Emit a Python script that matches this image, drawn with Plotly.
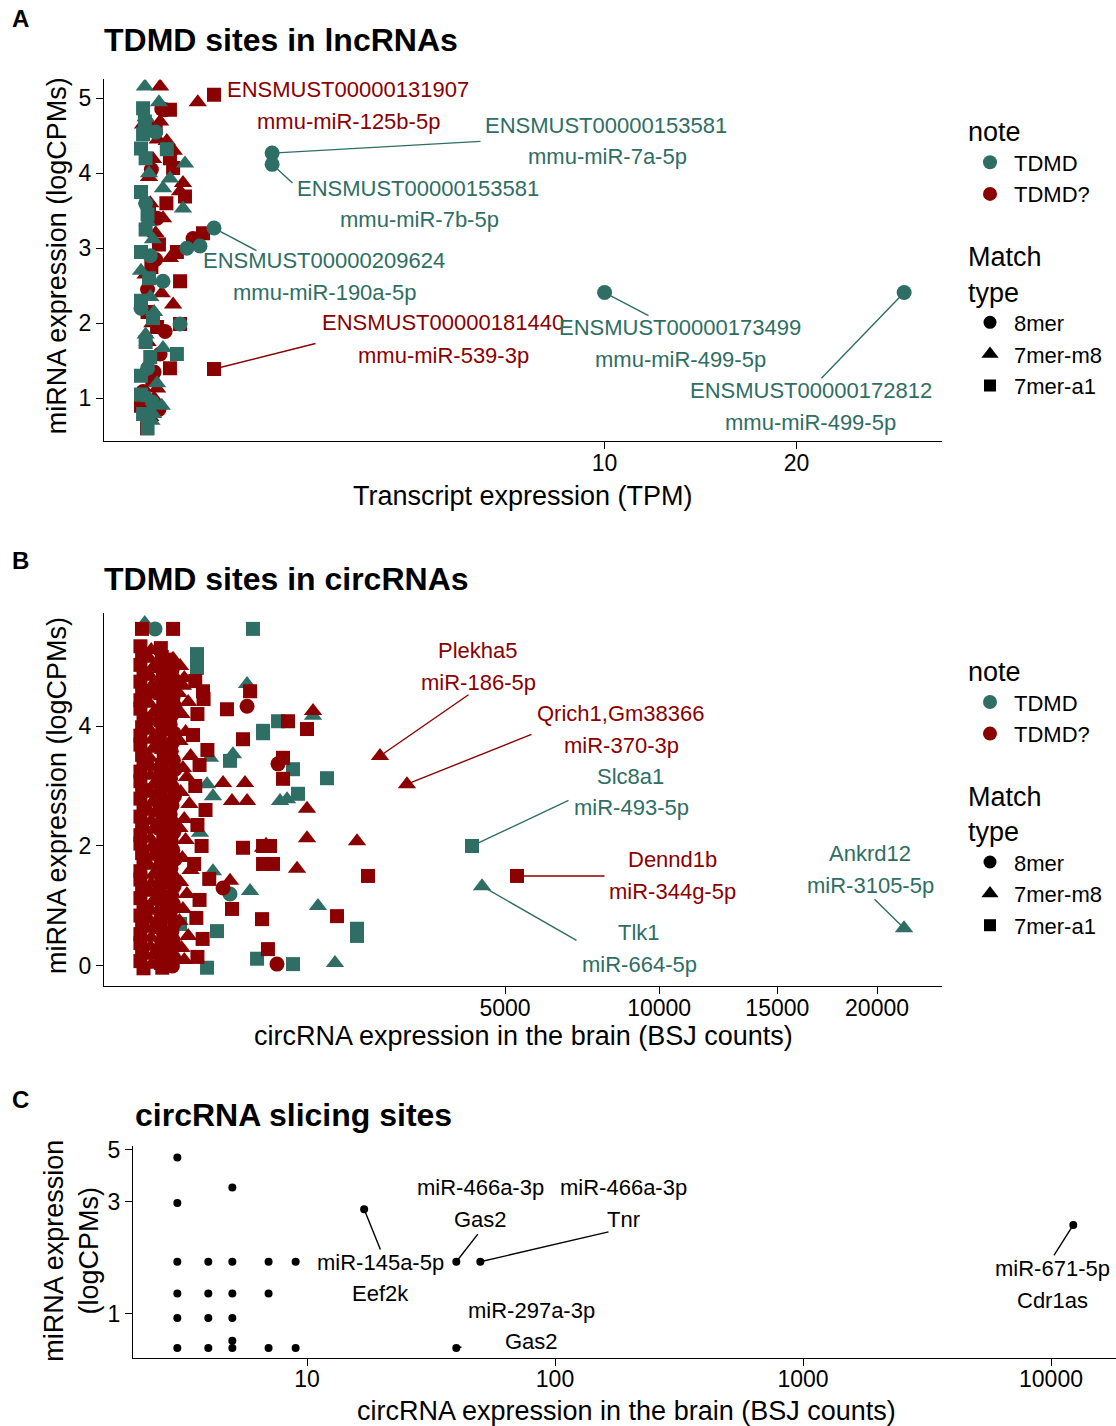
import numpy as np
import plotly.graph_objects as go

W, H = 1116, 1426
TEAL = "#2E6E64"
RED = "#8B0000"
FONT = "Liberation Sans, Arial, Helvetica, sans-serif"

# ---------------- Panel A : TDMD sites in lncRNAs ----------------
# (TPM, logCPM) per note / match type
a_teal_8mer_tpm = [0.098, 0.162, 0.0225, 0.071, 0.001, 0.004, 0.002, 0.010, 0.0, 0.006]
a_teal_8mer_cpm = [3.00, 3.03, 2.56, 1.99, 3.60, 2.90, 1.40, 4.55, 2.20, 0.95]
a_teal_m8_tpm = [0.0007, 0.090, 0.039, 0.0225, 0.082, 0.0067, 0.0225, 0.0067, 0.001, 0.003,
                 0.002, 0.0, 0.004, 0.001, 0.012, 0.003, 0.005, 0.015, 0.008, 0.020]
a_teal_m8_cpm = [5.16, 4.13, 3.93, 3.80, 3.53, 3.12, 1.67, 0.79, 4.75, 4.00,
                 3.35, 2.70, 2.35, 1.85, 1.20, 1.00, 0.70, 4.95, 2.15, 0.90]
a_teal_a1_tpm = [0.0002, 0.0007, 0.0002, 0.0, 0.031, 0.0067, 0.060, 0.0002, 0.001, 0.0,
                 0.002, 0.001, 0.0, 0.003, 0.0, 0.001, 0.004, 0.0, 0.002, 0.0]
a_teal_a1_cpm = [4.87, 4.69, 4.52, 4.33, 4.32, 2.07, 1.59, 0.79, 4.20, 3.75,
                 3.45, 3.25, 2.95, 2.60, 2.30, 1.75, 1.55, 1.30, 0.60, 1.05]
a_red_8mer_tpm = [0.027, 0.012, 0.027, 0.017, 0.0002, 0.126, 0.005, 0.002, 0.008, 0.010, 0.015, 0.020]
a_red_8mer_cpm = [4.85, 3.40, 1.89, 1.59, 1.09, 3.13, 4.05, 2.45, 1.35, 2.85, 0.85, 4.86]
a_red_m8_tpm = [0.017, 0.15, 0.0002, 0.017, 0.031, 0.0067, 0.082, 0.071, 0.0225, 0.039, 0.048, 0.012,
                0.003, 0.004, 0.010, 0.001, 0.006, 0.002, 0.008, 0.004, 0.020, 0.050, 0.013]
a_red_m8_cpm = [5.16, 4.95, 4.65, 4.69, 4.43, 4.19, 3.87, 3.76, 3.40, 2.87, 2.25, 1.13,
                3.95, 3.60, 3.20, 2.65, 2.00, 1.75, 1.00, 0.75, 2.40, 4.30, 4.45]
a_red_a1_tpm = [0.039, 0.039, 0.048, 0.090, 0.179, 0.071, 0.071, 0.039, 0.0017, 0.010,
                0.003, 0.015, 0.005, 0.002, 0.012, 0.006, 0.0, 0.030, 0.060, 0.126]
a_red_a1_cpm = [4.85, 4.20, 4.07, 3.69, 3.20, 2.56, 1.99, 1.40, 0.60, 4.60,
                3.50, 3.05, 2.75, 2.15, 1.95, 1.25, 0.90, 3.60, 2.95, 3.07]

a_lab_tx = ["ENSMUST00000131907", "ENSMUST00000153581", "ENSMUST00000153581", "ENSMUST00000209624",
            "ENSMUST00000181440", "ENSMUST00000173499", "ENSMUST00000172812"]
a_lab_mir = ["mmu-miR-125b-5p", "mmu-miR-7a-5p", "mmu-miR-7b-5p", "mmu-miR-190a-5p",
             "mmu-miR-539-3p", "mmu-miR-499-5p", "mmu-miR-499-5p"]
a_lab_tpm = [0.248, 0.80, 0.80, 0.248, 0.248, 10.0, 27.1]
a_lab_cpm = [5.05, 4.27, 4.12, 3.27, 1.39, 2.41, 2.41]
a_lab_note = ["TDMD?", "TDMD", "TDMD", "TDMD", "TDMD?", "TDMD", "TDMD"]
a_lab_type = ["7mer-a1", "8mer", "8mer", "8mer", "7mer-a1", "8mer", "8mer"]
a_xticks = [10, 20]

# ---------------- Panel B : TDMD sites in circRNAs ----------------
b_teal_8mer_bsj = [17.5, 42, 340]
b_teal_8mer_cpm = [5.62, 4.45, 1.20]
b_teal_m8_bsj = [5, 470, 361, 781, 495, 1171, 857, 1236, 1474, 214, 198, 231, 231, 162]
b_teal_m8_cpm = [5.72, 4.70, 3.53, 2.75, 1.25, 4.17, 2.78, 1.00, 0.05, 3.47, 3.03, 2.83, 1.58, 2.22]
b_teal_a1_bsj = [520, 148, 148, 611, 340, 556, 760, 925, 1360, 984, 1813, 1813, 925, 50, 80, 198, 255, 611]
b_teal_a1_cpm = [5.62, 5.20, 4.97, 3.92, 3.42, 0.12, 4.08, 3.28, 3.13, 2.87, 0.62, 0.50, 0.03, 2.22, 0.70, -0.03, 0.58, 3.88]

b_red_8mer_bsj = [50, 55, 60, 52, 58, 63, 54, 50, 61, 57, 53, 59, 64, 51, 56, 62, 55, 50, 58, 60,
                  53, 57, 64, 52, 56, 61, 54, 59, 50, 63, 55, 58, 52, 60, 56,
                  470, 293, 749, 760]
b_red_8mer_cpm = [5.10, 4.93, 4.78, 4.62, 4.47, 4.33, 4.18, 4.03, 3.88, 3.73, 3.58, 3.43, 3.28, 3.13,
                  2.98, 2.83, 2.68, 2.53, 2.38, 2.23, 2.08, 1.93, 1.78, 1.63, 1.48, 1.33, 1.18, 1.03,
                  0.88, 0.73, 0.58, 0.43, 0.28, 0.13, 0.00,
                  4.33, 1.30, 0.03, 3.37]
b_red_m8_bsj = [12, 10, 14, 11, 13, 12, 10, 15, 12, 11, 13, 14, 10, 12, 11, 15, 12, 13, 10, 12,
                14, 11, 12, 13, 10, 15, 12, 11, 14, 12, 10, 13, 12, 11, 14, 12,
                80, 95, 75, 110, 85, 100, 78, 120, 90, 105, 82, 115, 95, 78, 100, 88, 120, 80, 105, 90,
                78, 110, 85, 95,
                58, 90, 293, 453, 354, 470, 611, 340, 1171, 1094, 1094, 1813, 972, 640]
b_red_m8_cpm = [5.27, 5.12, 4.97, 4.82, 4.67, 4.52, 4.37, 4.22, 4.07, 3.92, 3.77, 3.62, 3.47, 3.32,
                3.17, 3.02, 2.87, 2.72, 2.57, 2.42, 2.27, 2.12, 1.97, 1.82, 1.67, 1.52, 1.37, 1.22,
                1.07, 0.92, 0.77, 0.62, 0.47, 0.32, 0.17, 0.02,
                5.00, 4.80, 4.55, 4.40, 4.20, 3.90, 3.75, 3.50, 3.30, 3.15, 2.90, 2.70, 2.45, 2.30,
                2.10, 1.80, 1.60, 1.40, 1.20, 0.95, 0.75, 0.50, 0.30, 0.10,
                5.12, 4.67, 3.05, 3.05, 2.75, 2.75, 1.97, 1.42, 4.25, 2.62, 2.13, 2.08, 1.62, 2.02]
b_red_a1_bsj = [2, 3, 2, 4, 2, 3, 2, 2, 4, 3, 2, 2, 3, 4, 2, 2, 3, 2, 4, 2, 3, 2, 2, 3, 4, 2, 2,
                3, 2, 4, 2, 3, 2, 2, 3, 2, 4,
                28, 30, 26, 32, 29, 27, 33, 30, 28, 31, 26, 29, 34, 30, 27, 32, 28, 30, 26, 31, 29,
                33, 27, 30, 28, 32, 29, 26, 31, 30, 28, 27, 33, 29, 30, 28, 31,
                140, 180, 150, 130, 200, 160, 140, 190, 150, 170, 135, 210, 160, 145, 175, 150,
                2.9, 58, 495, 177, 319, 437, 437, 611, 354, 601, 658, 868, 1094, 813, 813, 611, 678,
                708, 1995, 1504]
b_red_a1_cpm = [5.33, 5.18, 5.02, 4.88, 4.74, 4.57, 4.43, 4.29, 4.12, 3.98, 3.84, 3.69, 3.52, 3.38,
                3.24, 3.08, 2.93, 2.79, 2.63, 2.49, 2.33, 2.18, 2.04, 1.88, 1.74, 1.58, 1.44, 1.29,
                1.13, 0.98, 0.84, 0.69, 0.53, 0.38, 0.24, 0.08, -0.04,
                5.30, 5.15, 5.00, 4.85, 4.70, 4.55, 4.40, 4.25, 4.10, 3.95, 3.80, 3.65, 3.50, 3.35,
                3.20, 3.05, 2.90, 2.75, 2.60, 2.45, 2.30, 2.15, 2.00, 1.85, 1.70, 1.55, 1.40, 1.25,
                1.10, 0.95, 0.80, 0.65, 0.50, 0.35, 0.20, 0.05, -0.03,
                4.75, 4.45, 4.20, 3.85, 3.60, 3.35, 3.00, 2.60, 2.35, 2.00, 1.70, 1.45, 1.10, 0.80,
                0.45, 0.15,
                5.62, 5.62, 4.58, 4.58, 4.28, 3.78, 1.97, 1.70, 0.95, 0.78, 0.28, 4.08, 3.95, 3.47,
                3.12, 2.00, 2.00, 1.70, 1.50, 0.83]

b_lab_gene = ["Plekha5", "Qrich1,Gm38366", "Slc8a1", "Dennd1b", "Tlk1", "Ankrd12"]
b_lab_mir = ["miR-186-5p", "miR-370-3p", "miR-493-5p", "miR-344g-5p", "miR-664-5p", "miR-3105-5p"]
b_lab_bsj = [2204, 2712, 4152, 5328, 4401, 21477]
b_lab_cpm = [3.50, 3.03, 2.00, 1.50, 1.33, 0.63]
b_lab_note = ["TDMD?", "TDMD?", "TDMD", "TDMD?", "TDMD", "TDMD"]
b_lab_type = ["7mer-m8", "7mer-m8", "7mer-a1", "7mer-a1", "7mer-m8", "7mer-m8"]
b_xticks = [5000, 10000, 15000, 20000]

# ---------------- Panel C : circRNA slicing sites ----------------
c_bsj = [3, 3, 3, 3, 3, 3, 4, 4, 4, 4, 5, 5, 5, 5, 5, 5, 7, 7, 7, 9, 9]
c_cpm = [4.63, 2.96, 1.665, 1.22, 0.96, 0.714, 1.665, 1.22, 0.96, 0.714,
         3.45, 1.665, 1.22, 0.96, 0.767, 0.714, 1.665, 1.22, 0.714, 1.665, 0.714]
c_lab_mir = ["miR-145a-5p", "miR-466a-3p", "miR-466a-3p", "miR-297a-3p", "miR-671-5p"]
c_lab_gene = ["Eef2k", "Gas2", "Tnr", "Gas2", "Cdr1as"]
c_lab_bsj = [17, 40, 50, 40, 12300]
c_lab_cpm = [2.79, 1.665, 1.665, 0.714, 2.39]
c_xticks = [10, 100, 1000, 10000]
c_yticks = [1, 3, 5]

# ---------------- styling / layout helpers ----------------
NOTE_COLOR = {"TDMD": TEAL, "TDMD?": RED}
SHAPE = {"8mer": ("circle", 15), "7mer-m8": ("triangle-up", 16), "7mer-a1": ("square", 14)}

# label placement (target pixels): line1 centre, line2 centre, leader-line end (None = no leader)
A_LAB_POS = [((348, 88), (348, 120), None),
             ((606, 124), (607, 155), (482, 140)),
             ((418, 187), (419, 218), (294, 183)),
             ((324, 259), (324, 291), (258, 250)),
             ((443, 321), (443, 354), (317, 342)),
             ((680, 326), (680, 358), (650, 315)),
             ((811, 389), (811, 421), (820, 378))]
B_LAB_POS = [((478, 649), (478, 681), (470, 693)),
             ((621, 712), (621, 744), (533, 733)),
             ((630, 775), (631, 807), (570, 799)),
             ((673, 859), (673, 891), (606, 875)),
             ((639, 932), (639, 964), (578, 940)),
             ((870, 853), (870, 885), (873, 897))]
C_LAB_POS = [((381, 1262), (381, 1293), (381, 1250)),
             ((480, 1187), (480, 1219), (479, 1232)),
             ((623, 1187), (623, 1219), (610, 1231)),
             ((531, 1310), (531, 1341), (463, 1346)),
             ((1052, 1268), (1052, 1300), (1053, 1256))]

# vertical correction of the page rendering (measured): shown_y = 7.56 + 0.99424 * fig_y
VS, VO = 0.99424, 7.56


def fy(py):
    return (py - VO) / VS


def pxx(x):
    return x / W


def pxy(y):
    return 1 - fy(y) / H


fig = go.Figure()


def add_points(xs, ys, color, mtype, xa, ya, size=None):
    sym, sz = SHAPE[mtype]
    fig.add_trace(go.Scatter(
        x=xs, y=ys, mode="markers", xaxis=xa, yaxis=ya, showlegend=False, hoverinfo="skip",
        marker=dict(color=color, symbol=sym, size=size or sz, line=dict(width=0))))


def with_labels(xs, ys, note, mtype, lx, ly, lnote, ltype):
    xs = list(xs) + [x for x, n, t in zip(lx, lnote, ltype) if n == note and t == mtype]
    ys = list(ys) + [y for y, n, t in zip(ly, lnote, ltype) if n == note and t == mtype]
    return xs, ys


# Panel A (sqrt-scaled x)
A_GROUPS = [("TDMD?", "8mer", a_red_8mer_tpm, a_red_8mer_cpm),
            ("TDMD?", "7mer-m8", a_red_m8_tpm, a_red_m8_cpm),
            ("TDMD?", "7mer-a1", a_red_a1_tpm, a_red_a1_cpm),
            ("TDMD", "8mer", a_teal_8mer_tpm, a_teal_8mer_cpm),
            ("TDMD", "7mer-m8", a_teal_m8_tpm, a_teal_m8_cpm),
            ("TDMD", "7mer-a1", a_teal_a1_tpm, a_teal_a1_cpm)]
for note, mt, xs, ys in A_GROUPS:
    xs, ys = with_labels(xs, ys, note, mt, a_lab_tpm, a_lab_cpm, a_lab_note, a_lab_type)
    add_points(np.sqrt(xs), ys, NOTE_COLOR[note], mt, "x", "y")

# Panel B (sqrt-scaled x)
B_GROUPS = [("TDMD", "8mer", b_teal_8mer_bsj, b_teal_8mer_cpm),
            ("TDMD", "7mer-m8", b_teal_m8_bsj, b_teal_m8_cpm),
            ("TDMD", "7mer-a1", b_teal_a1_bsj, b_teal_a1_cpm),
            ("TDMD?", "8mer", b_red_8mer_bsj, b_red_8mer_cpm),
            ("TDMD?", "7mer-m8", b_red_m8_bsj, b_red_m8_cpm),
            ("TDMD?", "7mer-a1", b_red_a1_bsj, b_red_a1_cpm)]
for note, mt, xs, ys in B_GROUPS:
    xs, ys = with_labels(xs, ys, note, mt, b_lab_bsj, b_lab_cpm, b_lab_note, b_lab_type)
    add_points(np.sqrt(xs), ys, NOTE_COLOR[note], mt, "x2", "y2")

# Panel C (log-log)
add_points(list(c_bsj) + c_lab_bsj, list(c_cpm) + c_lab_cpm, "black", "8mer", "x3", "y3", size=8)

# Legend entries
for i, (lg, xa, ya) in enumerate([("legend", "x", "y"), ("legend3", "x2", "y2")]):
    for note in ["TDMD", "TDMD?"]:
        fig.add_trace(go.Scatter(x=[None], y=[None], mode="markers", name=note, legend=lg,
                                 xaxis=xa, yaxis=ya,
                                 marker=dict(color=NOTE_COLOR[note], symbol="circle", size=14)))
    lg2 = "legend2" if i == 0 else "legend4"
    for mt, sz in [("8mer", 13), ("7mer-m8", 15), ("7mer-a1", 12)]:
        sym = SHAPE[mt][0]
        fig.add_trace(go.Scatter(x=[None], y=[None], mode="markers", name=mt, legend=lg2,
                                 xaxis=xa, yaxis=ya,
                                 marker=dict(color="black", symbol=sym, size=sz)))

# axis geometry (target pixels) used to place leader-line ends
AX = {"x": (104, 942, -0.2524, 5.4639), "y": (440, 78, 0.4267, 5.2533),
      "x2": (104, 942, -5.512, 153.77), "y2": (985, 612, -0.3333, 5.8833),
      "x3": (133, 1116, 0.29839, 4.26210), "y3": (1357, 1145, -0.18739, 0.71550)}


def to_px(v, ref):
    p0, p1, r0, r1 = AX[ref]
    return p0 + (v - r0) / (r1 - r0) * (p1 - p0)


annotations = []


def add_labels(lx, ly, line1, line2, colors, pos, xref, yref):
    for x, y, t1, t2, col, (p1, p2, tail) in zip(lx, ly, line1, line2, colors, pos):
        for (px, py), t in [(p1, t1), (p2, t2)]:
            annotations.append(dict(text=t, x=pxx(px), y=pxy(py), xref="paper", yref="paper",
                                    xanchor="center", yanchor="middle", showarrow=False,
                                    font=dict(size=22, color=col, family=FONT)))
        if tail is not None:
            annotations.append(dict(text="", x=x, y=y, xref=xref, yref=yref, showarrow=True,
                                    ax=tail[0] - to_px(x, xref),
                                    ay=(tail[1] - to_px(y, yref)) / VS,
                                    arrowhead=0, arrowwidth=1.4, arrowcolor=col, standoff=0,
                                    font=dict(size=1)))


add_labels(np.sqrt(a_lab_tpm), a_lab_cpm, a_lab_tx, a_lab_mir,
           [NOTE_COLOR[n] for n in a_lab_note], A_LAB_POS, "x", "y")
add_labels(np.sqrt(b_lab_bsj), b_lab_cpm, b_lab_gene, b_lab_mir,
           [NOTE_COLOR[n] for n in b_lab_note], B_LAB_POS, "x2", "y2")
add_labels(np.log10(c_lab_bsj), np.log10(c_lab_cpm), c_lab_mir, c_lab_gene,
           ["black"] * 5, C_LAB_POS, "x3", "y3")

# Titles, panel letters, axis titles
for txt, x, y, size, xa in [("<b>A</b>", 20, 17, 24, "center"), ("<b>B</b>", 20, 559, 24, "center"),
                            ("<b>C</b>", 20, 1099, 24, "center"),
                            ("<b>TDMD sites in lncRNAs</b>", 102, 39, 32, "left"),
                            ("<b>TDMD sites in circRNAs</b>", 102, 578, 32, "left"),
                            ("<b>circRNA slicing sites</b>", 133, 1114, 32, "left")]:
    annotations.append(dict(text=txt, x=pxx(x), y=pxy(y), xref="paper", yref="paper", showarrow=False,
                            xanchor=xa, yanchor="middle", font=dict(size=size, color="black", family=FONT)))
for txt, x, y, ang in [("Transcript expression (TPM)", 523, 495, 0),
                       ("miRNA expression (logCPMs)", 57, 255, -90),
                       ("circRNA expression in the brain (BSJ counts)", 523, 1035, 0),
                       ("miRNA expression (logCPMs)", 57, 795, -90),
                       ("circRNA expression in the brain (BSJ counts)", 626, 1410, 0),
                       ("miRNA expression<br>(logCPMs)", 72, 1250, -90)]:
    annotations.append(dict(text=txt, x=pxx(x), y=pxy(y), xref="paper", yref="paper", showarrow=False,
                            xanchor="center", yanchor="middle", textangle=ang,
                            font=dict(size=27, color="black", family=FONT)))

axis_style = dict(showline=True, linecolor="black", linewidth=1.4, ticks="outside", ticklen=7,
                  tickwidth=1.4, tickcolor="black", showgrid=False, zeroline=False,
                  tickfont=dict(size=23, color="black", family=FONT), fixedrange=True)
xaxis_style = dict(axis_style, ticklabelstandoff=-6)

fig.update_layout(
    width=W, height=H, margin=dict(l=0, r=0, t=0, b=0),
    paper_bgcolor="white", plot_bgcolor="white", font=dict(family=FONT, color="black"),
    annotations=annotations,
    xaxis=dict(domain=[104 / W, 942 / W], anchor="y", range=[-0.2524, 5.4639],
               tickvals=np.sqrt(a_xticks), ticktext=[str(v) for v in a_xticks], **xaxis_style),
    yaxis=dict(domain=[pxy(440), pxy(78)], anchor="x", range=[0.4267, 5.2533],
               tickvals=[1, 2, 3, 4, 5], **axis_style),
    xaxis2=dict(domain=[104 / W, 942 / W], anchor="y2", range=[-5.512, 153.77],
                tickvals=np.sqrt(b_xticks), ticktext=[str(v) for v in b_xticks], **xaxis_style),
    yaxis2=dict(domain=[pxy(985), pxy(612)], anchor="x2", range=[-0.3333, 5.8833],
                tickvals=[0, 2, 4], **axis_style),
    xaxis3=dict(domain=[133 / W, 1.0], anchor="y3", type="log", range=[0.29839, 4.26210],
                tickvals=c_xticks, ticktext=[str(v) for v in c_xticks], **xaxis_style),
    yaxis3=dict(domain=[max(pxy(1357), 0.0), pxy(1145)], anchor="x3", type="log",
                range=[-0.18739, 0.71550], tickvals=c_yticks, ticktext=[str(v) for v in c_yticks],
                **axis_style),
)

leg_common = dict(xanchor="left", yanchor="top", bgcolor="rgba(0,0,0,0)", borderwidth=0,
                  font=dict(size=22, color="black", family=FONT), itemsizing="trace",
                  tracegroupgap=0, itemwidth=38)
fig.update_layout(
    legend=dict(x=966 / W, y=pxy(105), title=dict(text="note", font=dict(size=27)), **leg_common),
    legend2=dict(x=966 / W, y=pxy(230), title=dict(text="Match<br>type", font=dict(size=27)), **leg_common),
    legend3=dict(x=966 / W, y=pxy(645), title=dict(text="note", font=dict(size=27)), **leg_common),
    legend4=dict(x=966 / W, y=pxy(770), title=dict(text="Match<br>type", font=dict(size=27)), **leg_common),
)

fig.write_html("out.html", config={"displayModeBar": False},
               post_script="document.body.style.margin='0px';document.body.style.padding='0px';"
                           "document.body.style.overflow='hidden';")
